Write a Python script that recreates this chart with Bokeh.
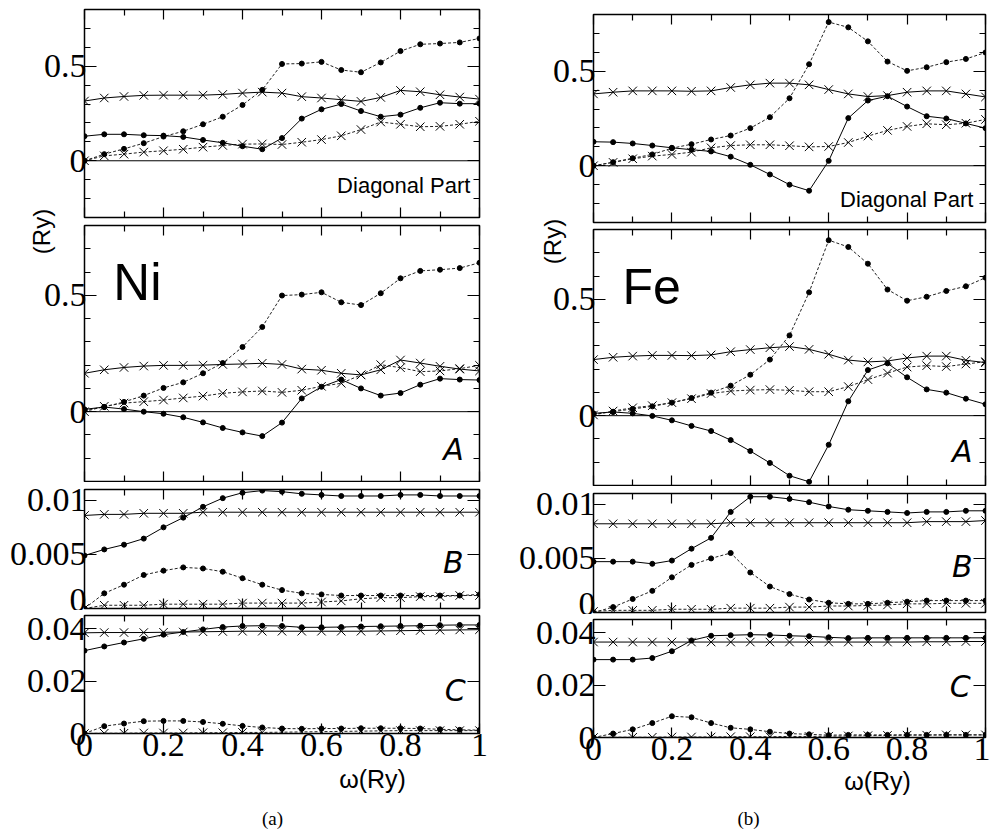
import math
from bokeh.plotting import figure
from bokeh.models import (Range1d, LinearAxis, FixedTicker, CustomJSTickFormatter,
                          Span, Label, GridBox)
from bokeh.layouts import row, column
from bokeh.embed import file_html
from bokeh.resources import INLINE

# ---------------- data ----------------
omega = [0.0, 0.05, 0.1, 0.15, 0.2, 0.25, 0.3, 0.35, 0.4, 0.45, 0.5,
         0.55, 0.6, 0.65, 0.7, 0.75, 0.8, 0.85, 0.9, 0.95, 1.0]

x_ticks = [0.0, 0.2, 0.4, 0.6, 0.8, 1.0]
x_minor = [0.1, 0.3, 0.5, 0.7, 0.9]

# Ni (a)  sd = solid+dot, dd = dashed+dot, sx = solid+cross, dx = dashed+cross
ni_diag_sd = [0.13, 0.14, 0.14, 0.135, 0.133, 0.126, 0.11, 0.095, 0.077, 0.061, 0.12,
              0.223, 0.272, 0.30, 0.263, 0.233, 0.244, 0.28, 0.307, 0.302, 0.302]
ni_diag_dd = [0.0, 0.035, 0.063, 0.093, 0.128, 0.156, 0.193, 0.233, 0.295, 0.375, 0.512,
              0.514, 0.523, 0.48, 0.468, 0.52, 0.58, 0.616, 0.62, 0.626, 0.647]
ni_diag_sx = [0.316, 0.332, 0.34, 0.346, 0.347, 0.347, 0.347, 0.351, 0.358, 0.363, 0.358,
              0.339, 0.332, 0.323, 0.314, 0.335, 0.372, 0.365, 0.349, 0.337, 0.326]
ni_diag_dx = [0.0, 0.026, 0.035, 0.046, 0.053, 0.061, 0.072, 0.081, 0.088, 0.089, 0.086,
              0.098, 0.112, 0.132, 0.165, 0.205, 0.193, 0.18, 0.182, 0.193, 0.209]

ni_a_sd = [0.01, 0.02, 0.011, 0.0, -0.009, -0.024, -0.046, -0.07, -0.089, -0.105, -0.047,
           0.057, 0.107, 0.138, 0.10, 0.069, 0.08, 0.116, 0.142, 0.138, 0.136]
ni_a_dd = [0.006, 0.02, 0.042, 0.069, 0.102, 0.126, 0.165, 0.209, 0.278, 0.364, 0.499,
           0.503, 0.513, 0.47, 0.458, 0.509, 0.573, 0.605, 0.61, 0.617, 0.64]
ni_a_sx = [0.165, 0.18, 0.19, 0.196, 0.199, 0.199, 0.2, 0.203, 0.205, 0.208, 0.203,
           0.183, 0.178, 0.165, 0.158, 0.18, 0.222, 0.209, 0.195, 0.183, 0.175]
ni_a_dx = [0.0, 0.023, 0.037, 0.043, 0.05, 0.059, 0.067, 0.079, 0.085, 0.089, 0.083,
           0.092, 0.109, 0.122, 0.158, 0.202, 0.189, 0.172, 0.175, 0.185, 0.199]

ni_b_sd = [0.0049, 0.00546, 0.0059, 0.00646, 0.0075, 0.0084, 0.0094, 0.0102, 0.0107, 0.0109, 0.0108,
           0.0106, 0.0105, 0.0104, 0.0104, 0.0104, 0.0105, 0.0105, 0.0104, 0.0104, 0.0104]
ni_b_dd = [0.0, 0.0014, 0.0022, 0.0031, 0.0035, 0.0038, 0.0037, 0.0034, 0.0028, 0.0022, 0.0017,
           0.0014, 0.0013, 0.0012, 0.0012, 0.0012, 0.0012, 0.0012, 0.0012, 0.0012, 0.0013]
ni_b_sx = [0.0086, 0.0087, 0.0087, 0.0088, 0.0088, 0.0088, 0.0089, 0.0089, 0.0089, 0.0089, 0.0089,
           0.0089, 0.0089, 0.0089, 0.0089, 0.0089, 0.0089, 0.0089, 0.0089, 0.0089, 0.0089]
ni_b_dx = [0.0, 0.0003, 0.0003, 0.0003, 0.0004, 0.0004, 0.0004, 0.0004, 0.0005, 0.0005, 0.0005,
           0.0005, 0.0006, 0.0007, 0.0009, 0.001, 0.001, 0.0011, 0.0011, 0.0012, 0.0012]

ni_c_sd = [0.0316, 0.0332, 0.0347, 0.0361, 0.0377, 0.0387, 0.0397, 0.0406, 0.041, 0.0411, 0.041,
           0.0405, 0.0405, 0.0406, 0.0408, 0.0409, 0.041, 0.0411, 0.0413, 0.0414, 0.0414]
ni_c_dd = [0.0, 0.0028, 0.0038, 0.0047, 0.0048, 0.0048, 0.0044, 0.0037, 0.0029, 0.0023, 0.0019,
           0.0018, 0.0019, 0.0019, 0.002, 0.002, 0.002, 0.0019, 0.0016, 0.0014, 0.0013]
ni_c_sx = [0.0384, 0.0385, 0.0385, 0.0385, 0.0386, 0.0387, 0.0388, 0.0389, 0.039, 0.039, 0.039,
           0.039, 0.039, 0.039, 0.039, 0.0391, 0.0392, 0.0393, 0.0394, 0.0395, 0.0396]
ni_c_dx = [0.0, 0.0001, 0.0001, 0.0002, 0.0002, 0.0002, 0.0003, 0.0003, 0.0004, 0.0004, 0.0005,
           0.0006, 0.0007, 0.0008, 0.0009, 0.001, 0.0011, 0.0011, 0.0011, 0.0011, 0.0011]

# Fe (b)
fe_diag_sd = [0.127, 0.125, 0.118, 0.107, 0.095, 0.085, 0.076, 0.048, 0.005, -0.046, -0.1,
              -0.132, 0.026, 0.252, 0.345, 0.368, 0.313, 0.262, 0.25, 0.224, 0.199]
fe_diag_dd = [0.0, 0.019, 0.04, 0.06, 0.093, 0.114, 0.139, 0.16, 0.199, 0.257, 0.357,
              0.537, 0.76, 0.732, 0.658, 0.551, 0.502, 0.521, 0.548, 0.565, 0.599]
fe_diag_sx = [0.38, 0.389, 0.396, 0.396, 0.396, 0.394, 0.396, 0.414, 0.428, 0.437, 0.437,
              0.428, 0.403, 0.38, 0.366, 0.371, 0.389, 0.396, 0.396, 0.38, 0.364]
fe_diag_dx = [0.0, 0.018, 0.037, 0.051, 0.06, 0.072, 0.095, 0.107, 0.111, 0.111, 0.106,
              0.1, 0.102, 0.123, 0.157, 0.187, 0.208, 0.222, 0.217, 0.225, 0.245]

fe_a_sd = [0.01, 0.016, 0.01, -0.001, -0.02, -0.044, -0.066, -0.105, -0.152, -0.203, -0.258,
           -0.284, -0.125, 0.062, 0.196, 0.225, 0.165, 0.113, 0.099, 0.073, 0.049]
fe_a_dd = [0.007, 0.017, 0.029, 0.04, 0.056, 0.076, 0.099, 0.129, 0.176, 0.241, 0.345,
           0.53, 0.754, 0.725, 0.653, 0.542, 0.494, 0.511, 0.536, 0.556, 0.593]
fe_a_sx = [0.241, 0.251, 0.256, 0.259, 0.259, 0.258, 0.261, 0.275, 0.284, 0.292, 0.297,
           0.285, 0.264, 0.239, 0.231, 0.235, 0.248, 0.256, 0.256, 0.238, 0.228]
fe_a_dx = [0.003, 0.02, 0.034, 0.043, 0.056, 0.073, 0.095, 0.106, 0.11, 0.112, 0.109,
           0.103, 0.103, 0.125, 0.155, 0.183, 0.209, 0.215, 0.211, 0.222, 0.232]

fe_b_sd = [0.0047, 0.0047, 0.0047, 0.0045, 0.0048, 0.0059, 0.0069, 0.0093, 0.0107, 0.0107, 0.0105,
           0.0102, 0.0098, 0.0095, 0.0094, 0.0093, 0.0092, 0.0093, 0.0093, 0.0094, 0.0094]
fe_b_dd = [0.0, 0.0005, 0.00125, 0.002, 0.00325, 0.0044, 0.005, 0.0055, 0.0037, 0.0024, 0.0017,
           0.0012, 0.0009, 0.0008, 0.0008, 0.0009, 0.001, 0.0011, 0.0011, 0.0011, 0.0011]
fe_b_sx = [0.0082, 0.0082, 0.0082, 0.0082, 0.0082, 0.0082, 0.0082, 0.0083, 0.0083, 0.0083, 0.0083,
           0.0083, 0.0083, 0.0083, 0.0083, 0.0083, 0.0083, 0.0084, 0.0084, 0.0084, 0.0085]
fe_b_dx = [0.0001, 0.0002, 0.0002, 0.0002, 0.0003, 0.0003, 0.0003, 0.0004, 0.0004, 0.0004, 0.0005,
           0.0005, 0.0006, 0.0006, 0.00065, 0.0007, 0.0008, 0.0008, 0.00085, 0.00085, 0.00085]

fe_c_sd = [0.0297, 0.0297, 0.0297, 0.0303, 0.0329, 0.037, 0.0388, 0.039, 0.0392, 0.0391, 0.0388,
           0.0386, 0.0382, 0.0379, 0.038, 0.038, 0.038, 0.038, 0.038, 0.038, 0.038]
fe_c_dd = [0.0, 0.0015, 0.0031, 0.0055, 0.0081, 0.0077, 0.0055, 0.0037, 0.0031, 0.0022, 0.0015,
           0.0012, 0.0009, 0.001, 0.001, 0.001, 0.001, 0.001, 0.001, 0.001, 0.001]
fe_c_sx = [0.0364, 0.0364, 0.0364, 0.0364, 0.0364, 0.0364, 0.0364, 0.0364, 0.0364, 0.0364, 0.0364,
           0.0364, 0.0364, 0.0364, 0.0364, 0.0364, 0.0364, 0.0365, 0.0365, 0.0366, 0.0366]
fe_c_dx = [0.0, 0.0001, 0.0001, 0.0001, 0.0002, 0.0002, 0.0002, 0.0003, 0.0003, 0.0003, 0.0004,
           0.0004, 0.0005, 0.0006, 0.0007, 0.0008, 0.0009, 0.0009, 0.001, 0.001, 0.001]

big_ticks = [0.0, 0.5]
big_minor = [-0.2, -0.1, 0.1, 0.2, 0.3, 0.4, 0.6, 0.7]
b_ticks = [0.0, 0.005, 0.01]
c_ticks = [0.0, 0.02, 0.04]

SERIF = "Liberation Serif"
SANS = "Liberation Sans"
OBL = "DejaVu Sans"

fmt_code = "return String(Math.round(tick*100000)/100000);"


def panel(w, h, bl, br, bt, bb, yr, yt, ym, ylen, series, xlabels=False, zero=False):
    p = figure(width=w, height=h, x_range=Range1d(0, 1), y_range=Range1d(*yr),
               toolbar_location=None, output_backend="svg",
               min_border_left=bl, min_border_right=br,
               min_border_top=bt, min_border_bottom=bb)
    p.grid.visible = False
    p.outline_line_color = "black"
    p.outline_line_width = 1.5
    p.background_fill_color = "white"
    p.border_fill_color = "white"

    def style(ax, ticks, minor, tlen, show, font_size="34px"):
        ax.ticker = FixedTicker(ticks=ticks, minor_ticks=minor)
        ax.formatter = CustomJSTickFormatter(code=fmt_code)
        ax.axis_line_color = None
        ax.major_tick_in = tlen
        ax.major_tick_out = 0
        ax.minor_tick_in = 6
        ax.minor_tick_out = 0
        ax.major_tick_line_color = "black"
        ax.minor_tick_line_color = "black"
        ax.major_tick_line_width = 1.2
        ax.minor_tick_line_width = 1.2
        if show:
            ax.major_label_text_font = SERIF
            ax.major_label_text_font_size = font_size
            ax.major_label_text_color = "black"
        else:
            ax.major_label_text_font_size = "0px"
            ax.major_label_text_color = None
        ax.major_label_standoff = 0

    style(p.xaxis[0], x_ticks, x_minor, 10, xlabels)
    style(p.yaxis[0], yt, ym, ylen, True)
    p.yaxis[0].major_label_standoff = -2
    top = LinearAxis()
    style(top, x_ticks, x_minor, 10, False)
    p.add_layout(top, "above")
    right = LinearAxis()
    style(right, yt, ym, ylen, False)
    p.add_layout(right, "right")

    if zero:
        p.add_layout(Span(location=0, dimension="width", line_color="black", line_width=1))

    sd, dd, sx, dx = series
    p.line(omega, dd, line_color="#222222", line_width=1, line_dash="3 2")
    p.line(omega, dx, line_color="#222222", line_width=1, line_dash="3 2")
    p.line(omega, sd, line_color="black", line_width=1)
    p.line(omega, sx, line_color="black", line_width=1)
    for ys in (sd, dd):
        p.scatter(omega, ys, marker="circle", size=5, fill_color="black", line_color="black")
    for ys in (sx, dx):
        p.scatter(omega, ys, marker="x", size=12, line_color="black", line_width=1)
    return p


def lab(p, x, y, text, size, font=SANS, style="normal", align="left", baseline="middle",
        angle=0.0, units="data"):
    p.add_layout(Label(x=x, y=y, text=text, text_font=font, text_font_size=size,
                       text_font_style=style, text_align=align, text_baseline=baseline,
                       text_color="black", angle=angle, x_units=units, y_units=units))


def blank(w, h):
    o = figure(width=w, height=h, x_range=Range1d(0, w), y_range=Range1d(0, h),
               toolbar_location=None, output_backend="svg", min_border=0,
               x_axis_type=None, y_axis_type=None)
    o.outline_line_color = None
    o.background_fill_alpha = 0
    o.border_fill_alpha = 0
    return o


# ---------------- left column (Ni) ----------------
WL = 503
L1 = panel(WL, 221, 84, 24, 9, 4, (-0.3, 0.8), big_ticks, big_minor, 12,
           (ni_diag_sd, ni_diag_dd, ni_diag_sx, ni_diag_dx), zero=True)
lab(L1, 0.977, -0.133, "Diagonal Part", "22px", align="right")
L2 = panel(WL, 261, 84, 24, 4, 1, (-0.3, 0.8), big_ticks, big_minor, 12,
           (ni_a_sd, ni_a_dd, ni_a_sx, ni_a_dx), zero=True)
lab(L2, 0.073, 0.553, "Ni", "51px")
lab(L2, 0.96, -0.163, "A", "30px", font=OBL, style="italic", align="right")
L3 = panel(WL, 128, 84, 24, 7, 2, (0.0, 0.011), b_ticks, [], 12,
           (ni_b_sd, ni_b_dd, ni_b_sx, ni_b_dx))
lab(L3, 0.96, 0.00421, "B", "30px", font=OBL, style="italic", align="right")
L4 = panel(WL, 157, 84, 24, 5, 34, (0.0, 0.045), c_ticks, [], 12,
           (ni_c_sd, ni_c_dd, ni_c_sx, ni_c_dx), xlabels=True)
lab(L4, 0.965, 0.0164, "C", "30px", font=OBL, style="italic", align="right")
OL = blank(WL, 830)
lab(OL, 41, 231, "(Ry)", "24px", align="center", angle=math.pi / 2, units="canvas")
lab(OL, 372, 778, "ω(Ry)", "25px", align="center", units="canvas")
lab(OL, 272, 818, "(a)", "19px", font=SERIF, align="center", units="canvas")

left = GridBox(children=[(column(L1, L2, L3, L4), 0, 0), (OL, 0, 0)])

# ---------------- right column (Fe) ----------------
WR = 487
R1 = panel(WR, 225, 90, 5, 14, 3, (-0.3, 0.8), big_ticks, big_minor, 12,
           (fe_diag_sd, fe_diag_dd, fe_diag_sx, fe_diag_dx), zero=True)
lab(R1, 0.969, -0.178, "Diagonal Part", "22px", align="right")
R2 = panel(WR, 261, 90, 5, 4, 1, (-0.3, 0.8), big_ticks, big_minor, 12,
           (fe_a_sd, fe_a_dd, fe_a_sx, fe_a_dx), zero=True)
lab(R2, 0.074, 0.555, "Fe", "50px")
lab(R2, 0.967, -0.154, "A", "30px", font=OBL, style="italic", align="right")
R3 = panel(WR, 128, 90, 5, 7, 2, (0.0, 0.011), b_ticks, [], 12,
           (fe_b_sd, fe_b_dd, fe_b_sx, fe_b_dx))
lab(R3, 0.967, 0.00421, "B", "30px", font=OBL, style="italic", align="right")
R4 = panel(WR, 157, 90, 5, 5, 34, (0.0, 0.045), c_ticks, [], 12,
           (fe_c_sd, fe_c_dd, fe_c_sx, fe_c_dx), xlabels=True)
lab(R4, 0.962, 0.0196, "C", "30px", font=OBL, style="italic", align="right")
OR = blank(WR, 830)
lab(OR, 49, 241, "(Ry)", "24px", align="center", angle=math.pi / 2, units="canvas")
lab(OR, 374, 780, "ω(Ry)", "25px", align="center", units="canvas")
lab(OR, 245, 818, "(b)", "19px", font=SERIF, align="center", units="canvas")

right = GridBox(children=[(column(R1, R2, R3, R4), 0, 0), (OR, 0, 0)])

root = row(left, right)
open("out.html", "w").write(file_html(root, INLINE))
